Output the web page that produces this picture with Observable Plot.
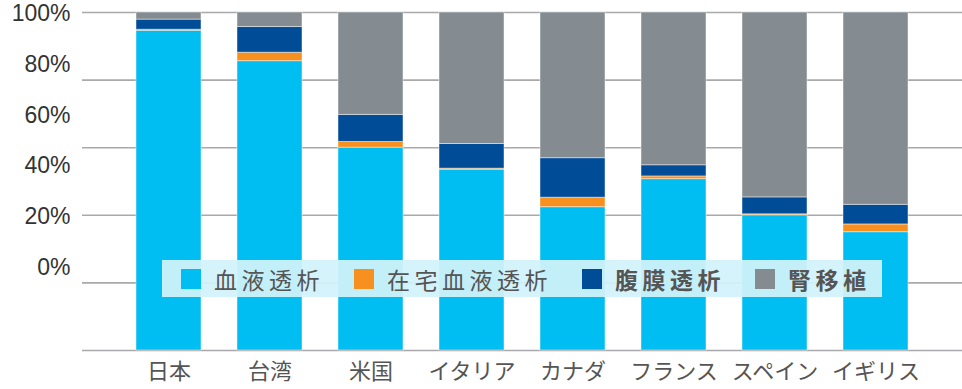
<!DOCTYPE html>
<html>
<head>
<meta charset="utf-8">
<script src="https://cdn.jsdelivr.net/npm/d3@7"></script>
<script src="https://cdn.jsdelivr.net/npm/@observablehq/plot@0.6"></script>
<style>
  body { margin: 0; background: #fff; }
  #wrap { position: relative; width: 962px; height: 389px; font-family: "Liberation Sans", "Noto Sans CJK JP", sans-serif; }
  #legend {
    position: absolute; left: 162px; top: 260px; width: 720px; height: 37px;
    background: rgba(210, 242, 250, 0.93);
    display: flex; align-items: center; padding-left: 19px; box-sizing: border-box; gap: 30px;
    font-family: "Noto Sans CJK JP", sans-serif; font-size: 23px; color: #555; letter-spacing: 4.5px;
  }
  .item { display: flex; align-items: center; }
  .sw { width: 20px; height: 20px; margin-right: 13px; }
</style>
</head>
<body>
<div id="wrap"></div>
<script>
const countries = ["日本", "台湾", "米国", "イタリア", "カナダ", "フランス", "スペイン", "イギリス"];
const seriesNames = ["血液透析", "在宅血液透析", "腹膜透析", "腎移植"];
const seriesColors = ["#00bef2", "#f7901e", "#004c97", "#848b91"];
const seriesBold = [false, false, true, true];
const hemodialysis = [94.6, 85.6, 60.0, 53.5, 42.4, 50.7, 40.0, 35.0];
const homeHemodialysis = [0.3, 2.5, 1.7, 0.3, 2.8, 0.8, 0.3, 2.3];
const peritonealDialysis = [3.0, 7.6, 8.0, 7.3, 11.7, 3.3, 5.0, 5.8];
const transplant = [2.1, 4.3, 30.3, 38.9, 43.1, 45.2, 54.7, 56.9];
const yTicks = [0, 20, 40, 60, 80, 100];
const yTickLabels = ["0%", "20%", "40%", "60%", "80%", "100%"];

const seriesValues = [hemodialysis, homeHemodialysis, peritonealDialysis, transplant];
const data = [];
countries.forEach((c, i) => {
  seriesNames.forEach((s, j) => data.push({country: c, type: s, value: seriesValues[j][i]}));
});

// tick labels in the reference sit on a compressed ladder, offset from the gridlines
const labelPos = v => 24.6 + v * 0.75;
const labelData = yTicks.map((v, i) => ({v, label: yTickLabels[i]}));

const chart = Plot.plot({
  width: 962,
  height: 389,
  marginTop: 12,
  marginBottom: 39,
  marginLeft: 82,
  marginRight: 0,
  style: {fontFamily: "'Liberation Sans', 'Noto Sans CJK JP', sans-serif", background: "transparent", overflow: "visible"},
  x: {domain: countries, paddingInner: 0.36, paddingOuter: 0.515, label: null},
  y: {domain: [0, 100], axis: null},
  color: {domain: seriesNames, range: seriesColors},
  marks: [
    Plot.ruleY(yTicks, {stroke: "#a9a9ab", strokeWidth: 1.6}),
    Plot.barY(data, {x: "country", y: "value", z: "type", fill: "type", order: seriesNames,
      stroke: "#fff", strokeOpacity: 0.45, strokeWidth: 1}),
    Plot.text(labelData, {y: d => labelPos(d.v), text: "label", frameAnchor: "left", textAnchor: "end",
      dx: -12, fontSize: 23, fill: "#333"}),
    Plot.axisX({tickSize: 0, tickPadding: 13, fontSize: 22, color: "#555",
      fontFamily: "'Noto Sans CJK JP', sans-serif"})
  ]
});

const wrap = document.getElementById("wrap");
wrap.appendChild(chart);

const legend = document.createElement("div");
legend.id = "legend";
seriesNames.forEach((s, i) => {
  const item = document.createElement("div");
  item.className = "item";
  const sw = document.createElement("span");
  sw.className = "sw";
  sw.style.background = seriesColors[i];
  const t = document.createElement("span");
  t.textContent = s;
  if (seriesBold[i]) t.style.fontWeight = "bold";
  item.appendChild(sw);
  item.appendChild(t);
  legend.appendChild(item);
});
wrap.appendChild(legend);
</script>
</body>
</html>
